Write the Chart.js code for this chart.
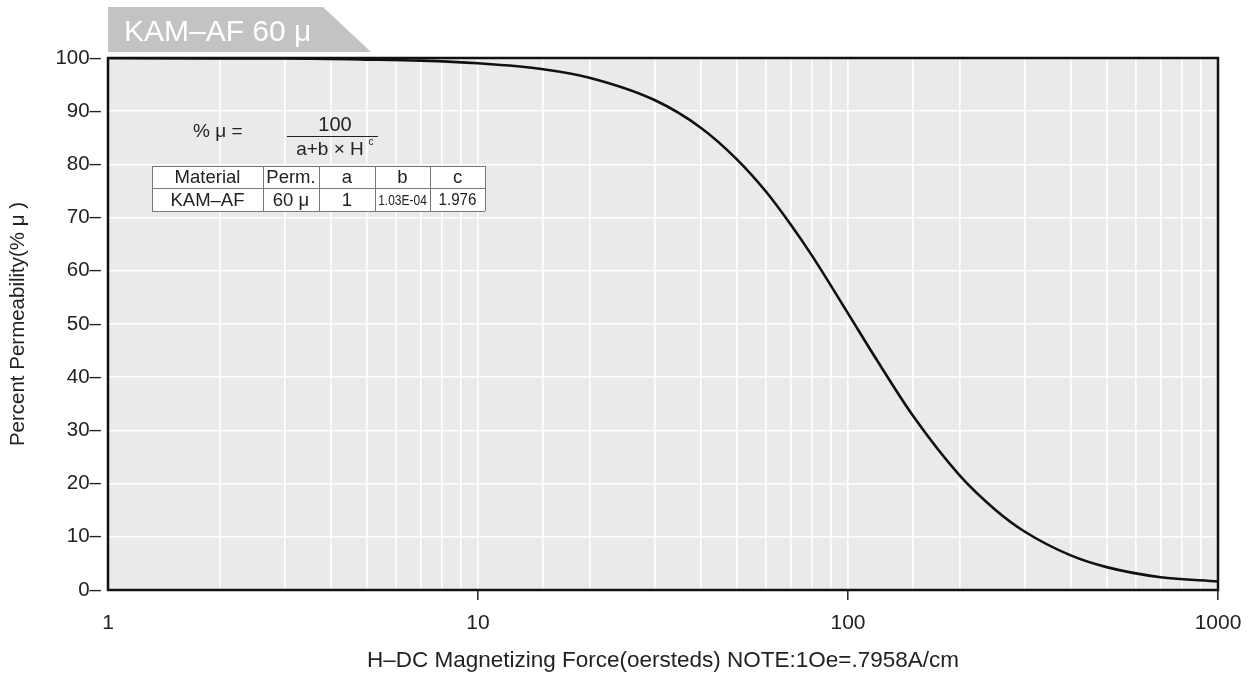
<!DOCTYPE html>
<html>
<head>
<meta charset="utf-8">
<script src="https://cdn.jsdelivr.net/npm/chart.js@4.4.1/dist/chart.umd.min.js"></script>
<style>
html,body{margin:0;padding:0;background:#fff;}
#wrap{width:1260px;height:677px;}
</style>
</head>
<body>
<div id="wrap"><canvas id="c" width="1260" height="677"></canvas></div>
<script>
// ---- data ----
const chartTitle = 'KAM\u2013AF 60 \u03bc';
const xAxisTitle = 'H\u2013DC Magnetizing Force(oersteds) NOTE:1Oe=.7958A/cm';
const yAxisTitle = 'Percent Permeability(% \u03bc )';
const hValues = [1, 2, 3, 5, 7, 10, 15, 20, 30, 40, 50, 60, 70, 80, 100, 120, 150, 200, 250, 300, 400, 500, 700, 1000];
const permValues = [100, 99.9, 99.9, 99.7, 99.5, 99.0, 97.9, 96.3, 92.1, 86.9, 81.0, 74.9, 68.7, 62.8, 52.0, 43.1, 32.7, 21.6, 15.1, 11.0, 6.5, 4.3, 2.4, 1.6];
const xTickLabels = [1, 10, 100, 1000];
const tableHeader = ['Material', 'Perm.', 'a', 'b', 'c'];
const tableRow = ['KAM\u2013AF', '60 \u03bc', '1', '1.03E-04', '1.976'];

const FONT = '"Liberation Sans", Arial, Helvetica, sans-serif';
const points = hValues.map((h, i) => ({x: h, y: permValues[i]}));

const decorPlugin = {
  id: 'decor',
  beforeDraw(chart) {
    const {ctx, chartArea: a} = chart;
    ctx.save();
    ctx.fillStyle = '#eaeaea';
    ctx.fillRect(a.left, a.top, a.right - a.left, a.bottom - a.top);
    ctx.restore();
  },
  afterDatasetsDraw(chart) {
    const {ctx, chartArea: a} = chart;
    ctx.save();
    ctx.strokeStyle = '#111';
    ctx.lineWidth = 2.5;
    ctx.strokeRect(a.left, a.top, a.right - a.left, a.bottom - a.top);
    ctx.restore();
  },
  afterDraw(chart) {
    const {ctx} = chart;
    ctx.save();
    // title tab
    ctx.fillStyle = '#c3c3c3';
    ctx.beginPath();
    ctx.moveTo(108, 7);
    ctx.lineTo(323, 7);
    ctx.lineTo(371, 52);
    ctx.lineTo(108, 52);
    ctx.closePath();
    ctx.fill();
    ctx.fillStyle = '#fff';
    ctx.font = '30px ' + FONT;
    ctx.textBaseline = 'alphabetic';
    ctx.textAlign = 'left';
    ctx.fillText(chartTitle, 124, 41);

    // formula
    ctx.fillStyle = '#222';
    ctx.font = '19px ' + FONT;
    ctx.textBaseline = 'middle';
    ctx.fillText('% \u03bc =', 193, 132);
    ctx.textAlign = 'center';
    ctx.font = '20px ' + FONT;
    ctx.fillText('100', 335, 125);
    ctx.strokeStyle = '#222';
    ctx.lineWidth = 1.2;
    ctx.beginPath();
    ctx.moveTo(287, 136.5);
    ctx.lineTo(378, 136.5);
    ctx.stroke();
    ctx.font = '19px ' + FONT;
    ctx.fillText('a+b \u00d7 H', 330, 150);
    ctx.font = '10px ' + FONT;
    ctx.fillText('c', 371, 142);

    // table
    const cols = [152, 263, 319, 375, 430, 485];
    const rows = [166, 188, 211];
    ctx.fillStyle = '#fff';
    ctx.fillRect(cols[0], rows[0], cols[5] - cols[0], rows[2] - rows[0]);
    ctx.strokeStyle = '#777';
    ctx.lineWidth = 1;
    ctx.beginPath();
    cols.forEach(x => { ctx.moveTo(x + 0.5, rows[0]); ctx.lineTo(x + 0.5, rows[2]); });
    rows.forEach(y => { ctx.moveTo(cols[0], y + 0.5); ctx.lineTo(cols[5], y + 0.5); });
    ctx.stroke();
    ctx.fillStyle = '#222';
    ctx.textAlign = 'center';
    ctx.textBaseline = 'middle';
    const rowScale = [1, 1, 1, 0.8, 0.95];
    const rowSize = [18.5, 18.5, 18.5, 15, 16];
    for (let i = 0; i < 5; i++) {
      const cx = (cols[i] + cols[i + 1]) / 2;
      ctx.font = '18.5px ' + FONT;
      ctx.fillText(tableHeader[i], cx, (rows[0] + rows[1]) / 2 + 1);
      ctx.save();
      ctx.translate(cx, (rows[1] + rows[2]) / 2 + 1);
      ctx.scale(rowScale[i], 1);
      ctx.font = rowSize[i] + 'px ' + FONT;
      ctx.fillText(tableRow[i], 0, 0);
      ctx.restore();
    }
    ctx.restore();
  }
};

const isDecade = v => Math.abs(Math.log10(v) - Math.round(Math.log10(v))) < 1e-9;

new Chart(document.getElementById('c'), {
  type: 'line',
  data: {
    datasets: [{
      data: points,
      borderColor: '#111',
      borderWidth: 2.6,
      pointRadius: 0,
      fill: false,
      cubicInterpolationMode: 'monotone'
    }]
  },
  options: {
    responsive: false,
    animation: false,
    devicePixelRatio: 1,
    layout: {padding: {left: 0, top: 58, right: 42, bottom: 0}},
    plugins: {legend: {display: false}, tooltip: {enabled: false}},
    scales: {
      x: {
        type: 'logarithmic',
        min: 1,
        max: 1000,
        border: {display: false},
        grid: {
          color: '#ffffff',
          lineWidth: 1.6,
          drawTicks: true,
          tickLength: 10,
          tickColor: ctx => (ctx.tick && isDecade(ctx.tick.value) && ctx.tick.value > 1) ? '#222' : 'rgba(0,0,0,0)',
          tickWidth: 1.5
        },
        ticks: {
          autoSkip: false,
          maxRotation: 0,
          color: '#222',
          font: {family: FONT, size: 21},
          padding: 11,
          callback: v => xTickLabels.includes(v) ? String(v) : ''
        },
        title: {
          display: true,
          text: xAxisTitle,
          color: '#222',
          font: {family: FONT, size: 22.5},
          padding: {top: 4, bottom: 3}
        },
        afterFit: s => { s.height = 87; }
      },
      y: {
        min: 0,
        max: 100,
        border: {display: false},
        grid: {color: '#ffffff', lineWidth: 1.6, drawTicks: false},
        ticks: {
          stepSize: 10,
          color: '#222',
          font: {family: FONT, size: 20.5},
          padding: 7,
          callback: v => v + '\u2013'
        },
        title: {
          display: true,
          text: yAxisTitle,
          color: '#222',
          font: {family: FONT, size: 20.5},
          padding: {top: 6, bottom: 0}
        },
        afterFit: s => { s.width = 108; }
      }
    }
  },
  plugins: [decorPlugin]
});
</script>
</body>
</html>
